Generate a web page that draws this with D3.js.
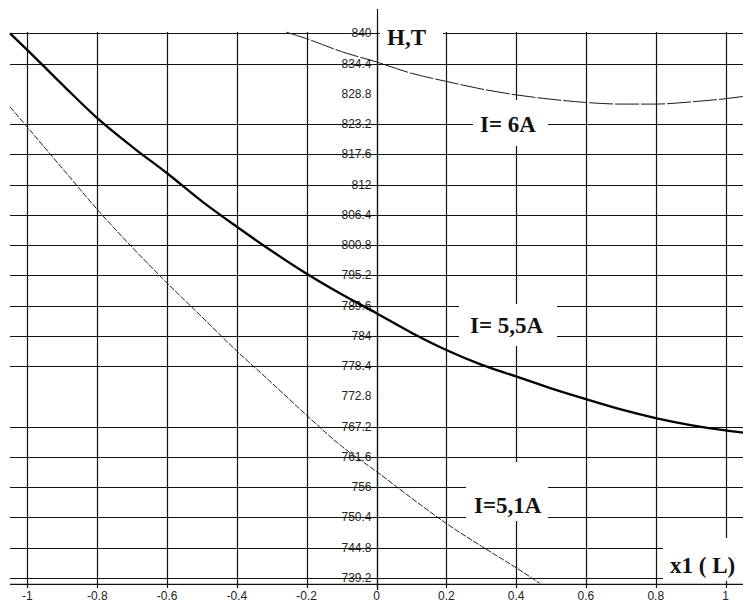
<!DOCTYPE html>
<html><head><meta charset="utf-8">
<script src="https://cdn.jsdelivr.net/npm/d3@7"></script>
<style>
html,body{margin:0;padding:0;background:#fff;}
svg{display:block;}
</style></head>
<body>
<script>
// ---- data ----
const xTicks = [-1, -0.8, -0.6, -0.4, -0.2, 0, 0.2, 0.4, 0.6, 0.8, 1];
const yTicks = [840, 834.4, 828.8, 823.2, 817.6, 812, 806.4, 800.8, 795.2, 789.6, 784, 778.4, 772.8, 767.2, 761.6, 756, 750.4, 744.8, 739.2];
const yGridSkip = [828.8, 772.8];

const xI6 = [-0.258, -0.2, -0.1, 0, 0.1, 0.2, 0.3, 0.4, 0.5, 0.6, 0.7, 0.8, 0.9, 1.0, 1.05];
const hI6 = [840.2, 839.0, 836.6, 834.7, 832.6, 831.1, 829.7, 828.6, 827.8, 827.2, 826.9, 826.9, 827.3, 827.9, 828.3];

const xI55 = [-1.05, -1, -0.9, -0.8, -0.7, -0.6, -0.5, -0.4, -0.3, -0.2, -0.1, 0, 0.1, 0.2, 0.3, 0.4, 0.5, 0.6, 0.7, 0.8, 0.9, 1.0, 1.05];
const hI55 = [840.0, 836.9, 830.5, 824.3, 819.0, 814.1, 808.9, 804.2, 799.7, 795.5, 791.7, 788.2, 784.6, 781.4, 778.7, 776.5, 774.3, 772.3, 770.4, 768.8, 767.5, 766.5, 766.1];

const xI51 = [-1.05, -1, -0.9, -0.8, -0.7, -0.6, -0.5, -0.4, -0.3, -0.2, -0.1, 0, 0.1, 0.2, 0.3, 0.4, 0.468];
const hI51 = [826.4, 822.6, 815.0, 807.4, 800.4, 793.8, 787.5, 781.2, 775.3, 769.3, 763.6, 758.9, 754.0, 749.3, 745.1, 741.1, 738.2];

const labels = ["H,T", "I= 6A", "I= 5,5A", "I=5,1A", "x1 ( L)"];

// ---- chart ----
const W = 743, H = 603;
const svg = d3.select("body").append("svg").attr("width", W).attr("height", H);

const x = d3.scaleLinear().domain([-1.05, 1.05]).range([10, 743]);
const y = d3.scaleLinear().domain([739.2, 840]).range([578, 33.3]);
const yAxisBottom = 584.3;

const gridColor = "#111";

// horizontal grid lines
svg.append("g").selectAll("line")
  .data(yTicks.filter(v => !yGridSkip.includes(v)))
  .join("line")
  .attr("x1", x(-1.05)).attr("x2", x(1.05))
  .attr("y1", d => Math.round(y(d)) + 0.5).attr("y2", d => Math.round(y(d)) + 0.5)
  .attr("stroke", gridColor).attr("stroke-width", 1.2);

// vertical grid lines
svg.append("g").selectAll("line")
  .data(xTicks)
  .join("line")
  .attr("x1", d => Math.round(x(d)) + 0.5).attr("x2", d => Math.round(x(d)) + 0.5)
  .attr("y1", 32).attr("y2", 588)
  .attr("stroke", gridColor).attr("stroke-width", 1.2);

// x axis line
svg.append("line")
  .attr("x1", x(-1.05)).attr("x2", x(1.05))
  .attr("y1", yAxisBottom).attr("y2", yAxisBottom)
  .attr("stroke", gridColor).attr("stroke-width", 1.2);

// y axis line (extends above)
svg.append("line")
  .attr("x1", Math.round(x(0)) + 0.5).attr("x2", Math.round(x(0)) + 0.5)
  .attr("y1", 9).attr("y2", 590)
  .attr("stroke", gridColor).attr("stroke-width", 1.2);

// y tick labels
const fmt = v => String(+v.toFixed(1));
svg.append("g").selectAll("text")
  .data(yTicks)
  .join("text")
  .attr("x", x(0) - 5)
  .attr("y", d => y(d) + 4)
  .attr("text-anchor", "end")
  .attr("font-family", "Liberation Sans, Arial, sans-serif")
  .attr("font-size", 12)
  .attr("fill", "#222")
  .text(fmt);

// x tick labels
svg.append("g").selectAll("text")
  .data(xTicks)
  .join("text")
  .attr("x", d => x(d))
  .attr("y", 600)
  .attr("text-anchor", "middle")
  .attr("font-family", "Liberation Sans, Arial, sans-serif")
  .attr("font-size", 12)
  .attr("fill", "#222")
  .text(fmt);

// curves
const line = d3.line().x(d => x(d[0])).y(d => y(d[1])).curve(d3.curveMonotoneX);
svg.append("path").datum(d3.zip(xI6, hI6)).attr("d", line)
  .attr("fill", "none").attr("stroke", "#1a1a1a").attr("stroke-width", 1)
  .attr("stroke-dasharray", "24 2");
svg.append("path").datum(d3.zip(xI55, hI55)).attr("d", line)
  .attr("fill", "none").attr("stroke", "#000").attr("stroke-width", 2.3);
svg.append("path").datum(d3.zip(xI51, hI51)).attr("d", line)
  .attr("fill", "none").attr("stroke", "#222").attr("stroke-width", 1)
  .attr("stroke-dasharray", "6 1.5");

// label boxes (white background) and labels
const boxes = [
  {t: labels[0], bx: [380, 443], by: [22, 45], tx: 387, ty: 45},
  {t: labels[1], bx: [473, 548], by: [100, 146], tx: 480, ty: 132},
  {t: labels[2], bx: [459, 557], by: [304, 346], tx: 470, ty: 333},
  {t: labels[3], bx: [466, 548], by: [462, 521], tx: 474, ty: 513},
  {t: labels[4], bx: [663, 743], by: [538, 581], tx: 670, ty: 573}
];
boxes.forEach(b => {
  svg.append("rect")
    .attr("x", b.bx[0]).attr("y", b.by[0])
    .attr("width", b.bx[1] - b.bx[0]).attr("height", b.by[1] - b.by[0])
    .attr("fill", "#fff");
  svg.append("text")
    .attr("x", b.tx).attr("y", b.ty)
    .attr("font-family", "Liberation Serif, Times New Roman, serif")
    .attr("font-weight", "bold")
    .attr("font-size", 23)
    .attr("fill", "#111")
    .text(b.t);
});
</script>
</body></html>
